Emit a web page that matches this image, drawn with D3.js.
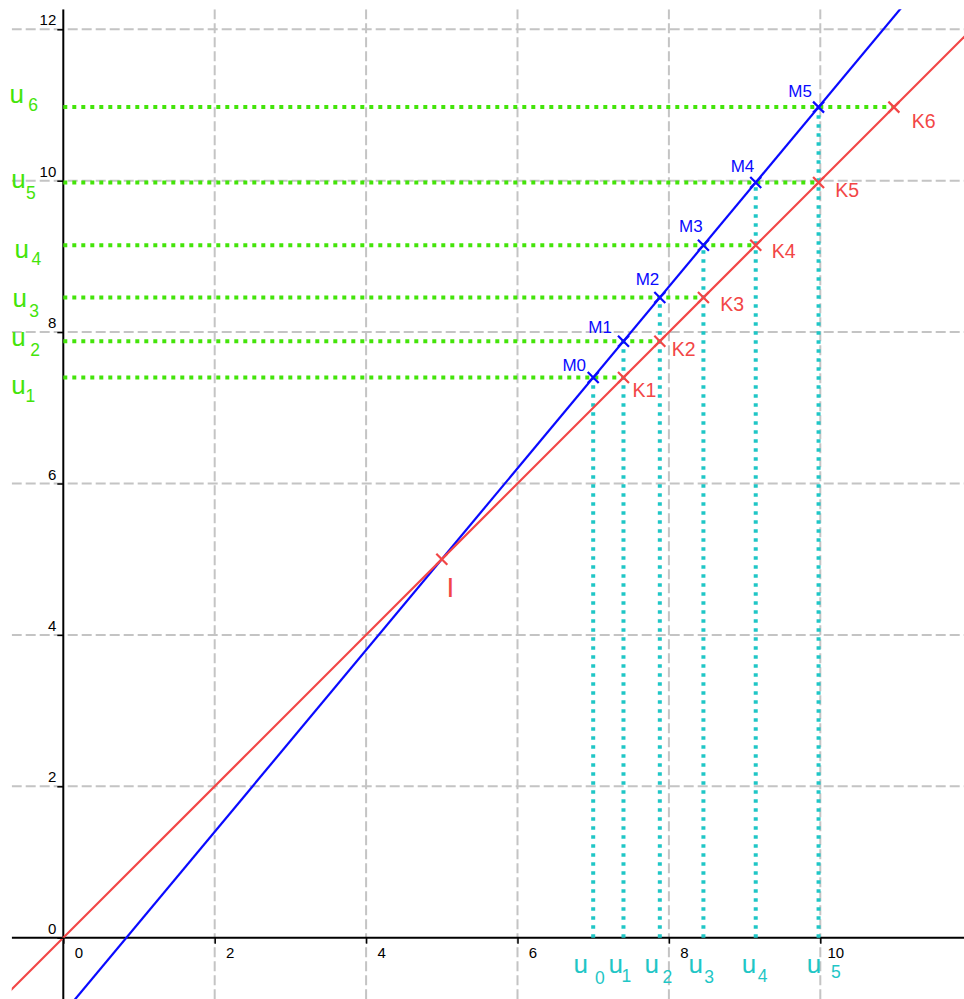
<!DOCTYPE html>
<html>
<head>
<meta charset="utf-8">
<script src="https://cdn.jsdelivr.net/npm/d3@7"></script>
<style>
  html, body { margin: 0; padding: 0; background: #fff; }
  svg { display: block; font-family: "Liberation Sans", Arial, sans-serif; }
</style>
</head>
<body>
<svg id="chart" width="964" height="999"></svg>
<script>
// suite u(n)
const u = [7, 7.4, 7.88, 8.456, 9.147, 9.977, 10.972];
const pointI = [5, 5];
const xTicks = [0, 2, 4, 6, 8, 10];
const yTicks = [0, 2, 4, 6, 8, 10, 12];
const gridX = [2, 4, 6, 8, 10];
const gridY = [2, 4, 6, 8, 10, 12];
const redLine = [[-2, -2], [14, 14]];       // y = x
const blueLine = [[-0.5, -1.6], [11.5, 12.8]]; // droite passant par I et les M

// décalages des étiquettes (px), placées à la main sur l'original
const mNudge = [[-7.2, -6.5], [-11.5, -8.5], [-0.5, -12.6], [-0.7, -13], [-1.4, -10.7], [-6.6, -10.4]];
const kNudge = [[9, 19.2], [12, 14.8], [16.8, 13.4], [16.1, 13], [16.6, 14.3], [17.9, 20.6]];
const leftNudge = [[-52.1, 16.2, -37.9, 24.2], [-52.1, 5.2, -33, 14.8], [-50.8, 9.1, -34, 19.1],
                   [-48.8, 12.7, -31.7, 19.7], [-52.1, 5.6, -37.3, 16.9], [-53.8, -4.4, -35, 3.9]];
const botNudge = [[-19.7, 35.3, 1.8, 46.6], [-15, 35.3, -2.1, 44.6], [-15.3, 35.3, 2.8, 45.3],
                  [-14.9, 35.3, 0.9, 45], [-13.9, 35.3, 1.9, 44.6], [-11.8, 35.3, 12.4, 40.6]];

const RED = "#f24646", BLUE = "#0a0aff", GREEN = "#44e40a", CYAN = "#1fc6c6";
const FONT = "'Liberation Sans', Arial, sans-serif";
const W = 964, H = 999;
const x = d3.scaleLinear().domain([0, 10]).range([63.3, 820.3]);
const y = d3.scaleLinear().domain([0, 12]).range([937.7, 29.3]);
const clipL = 11.7, clipT = 9.3;

const svg = d3.select("#chart");
svg.append("defs").append("clipPath").attr("id", "clip")
  .append("rect").attr("x", clipL).attr("y", clipT).attr("width", W - clipL).attr("height", H - clipT);
const plot = svg.append("g").attr("clip-path", "url(#clip)");

/* grille */
plot.selectAll("line.gx").data(gridX).join("line").attr("class", "gx")
  .attr("x1", (d) => x(d)).attr("x2", (d) => x(d)).attr("y1", clipT).attr("y2", H)
  .attr("stroke", "#c4c4c4").attr("stroke-width", 2).attr("stroke-dasharray", "10,4");
plot.selectAll("line.gy").data(gridY).join("line").attr("class", "gy")
  .attr("y1", (d) => y(d)).attr("y2", (d) => y(d)).attr("x1", clipL).attr("x2", W)
  .attr("stroke", "#c4c4c4").attr("stroke-width", 2).attr("stroke-dasharray", "10,4");

/* axes */
plot.append("line").attr("x1", clipL).attr("x2", W).attr("y1", y(0)).attr("y2", y(0))
  .attr("stroke", "#000").attr("stroke-width", 2);
plot.append("line").attr("x1", x(0)).attr("x2", x(0)).attr("y1", clipT).attr("y2", H)
  .attr("stroke", "#000").attr("stroke-width", 2);

const ax = svg.append("g").attr("transform", `translate(0,${y(0)})`)
  .call(d3.axisBottom(x).tickValues(xTicks).tickSize(6).tickFormat(d3.format("d")))
  .attr("font-size", null).attr("font-family", null);
ax.select(".domain").remove();
ax.selectAll("line").attr("stroke-width", 1.5);
ax.selectAll("text").attr("x", 15).attr("y", 20).attr("dy", 0).attr("fill", "#000")
  .style("font-size", "15px").style("font-family", FONT);

const ay = svg.append("g").attr("transform", `translate(${x(0)},0)`)
  .call(d3.axisLeft(y).tickValues(yTicks).tickSize(6).tickFormat(d3.format("d")))
  .attr("font-size", null).attr("font-family", null);
ay.select(".domain").remove();
ay.selectAll("line").attr("stroke-width", 1.5);
ay.selectAll("text").attr("x", -7).attr("dy", -4.5).attr("fill", "#000")
  .style("font-size", "15px").style("font-family", FONT);

/* pointillés */
const line = d3.line().x((d) => x(d[0])).y((d) => y(d[1]));
const greens = u.slice(1).map((v) => [[0, v], [v, v]]);
const cyans = u.slice(0, 6).map((v, i) => [[v, 0], [v, u[i + 1]]]);
plot.selectAll("path.green").data(greens).join("path").attr("class", "green")
  .attr("d", line).attr("fill", "none").attr("stroke", GREEN)
  .attr("stroke-width", 4).attr("stroke-dasharray", "4,5");
plot.selectAll("path.cyan").data(cyans).join("path").attr("class", "cyan")
  .attr("d", line).attr("fill", "none").attr("stroke", CYAN)
  .attr("stroke-width", 4).attr("stroke-dasharray", "3.5,5.5");

/* droites */
plot.append("path").attr("d", line(blueLine)).attr("stroke", BLUE).attr("stroke-width", 2.2).attr("fill", "none");
plot.append("path").attr("d", line(redLine)).attr("stroke", RED).attr("stroke-width", 2.2).attr("fill", "none");

/* points */
const cross = "M-5.5,-5.5L5.5,5.5M-5.5,5.5L5.5,-5.5";
const M = u.slice(0, 6).map((v, i) => [v, u[i + 1]]);
const K = u.slice(1).map((v) => [v, v]);
plot.selectAll("path.m").data(M).join("path").attr("class", "m")
  .attr("transform", (d) => `translate(${x(d[0])},${y(d[1])})`)
  .attr("d", cross).attr("stroke", BLUE).attr("stroke-width", 2.2);
plot.selectAll("path.k").data(K.concat([pointI])).join("path").attr("class", "k")
  .attr("transform", (d) => `translate(${x(d[0])},${y(d[1])})`)
  .attr("d", cross).attr("stroke", RED).attr("stroke-width", 2.2);

/* étiquettes */
svg.selectAll("text.ml").data(M).join("text").attr("class", "ml")
  .attr("x", (d, i) => x(d[0]) + mNudge[i][0]).attr("y", (d, i) => y(d[1]) + mNudge[i][1])
  .attr("text-anchor", "end").attr("font-size", 17).attr("fill", BLUE)
  .text((d, i) => "M" + i);
svg.selectAll("text.kl").data(K).join("text").attr("class", "kl")
  .attr("x", (d, i) => x(d[0]) + kNudge[i][0]).attr("y", (d, i) => y(d[1]) + kNudge[i][1])
  .attr("font-size", 19.5).attr("fill", RED)
  .text((d, i) => "K" + (i + 1));
svg.append("text").attr("x", x(pointI[0]) + 4.6).attr("y", y(pointI[1]) + 37.5)
  .attr("font-size", 28).attr("fill", RED).text("I");

// u1..u6 à gauche
u.slice(1).forEach((v, i) => {
  const n = leftNudge[i];
  svg.append("text").attr("x", x(0) + n[0]).attr("y", y(v) + n[1])
    .attr("font-size", 26).attr("fill", GREEN).text("u");
  svg.append("text").attr("x", x(0) + n[2]).attr("y", y(v) + n[3])
    .attr("font-size", 17.5).attr("fill", GREEN).text(i + 1);
});
// u0..u5 en bas
u.slice(0, 6).forEach((v, i) => {
  const n = botNudge[i];
  svg.append("text").attr("x", x(v) + n[0]).attr("y", y(0) + n[1])
    .attr("font-size", 26).attr("fill", CYAN).text("u");
  svg.append("text").attr("x", x(v) + n[2]).attr("y", y(0) + n[3])
    .attr("font-size", 17.5).attr("fill", CYAN).text(i);
});
</script>
</body>
</html>
